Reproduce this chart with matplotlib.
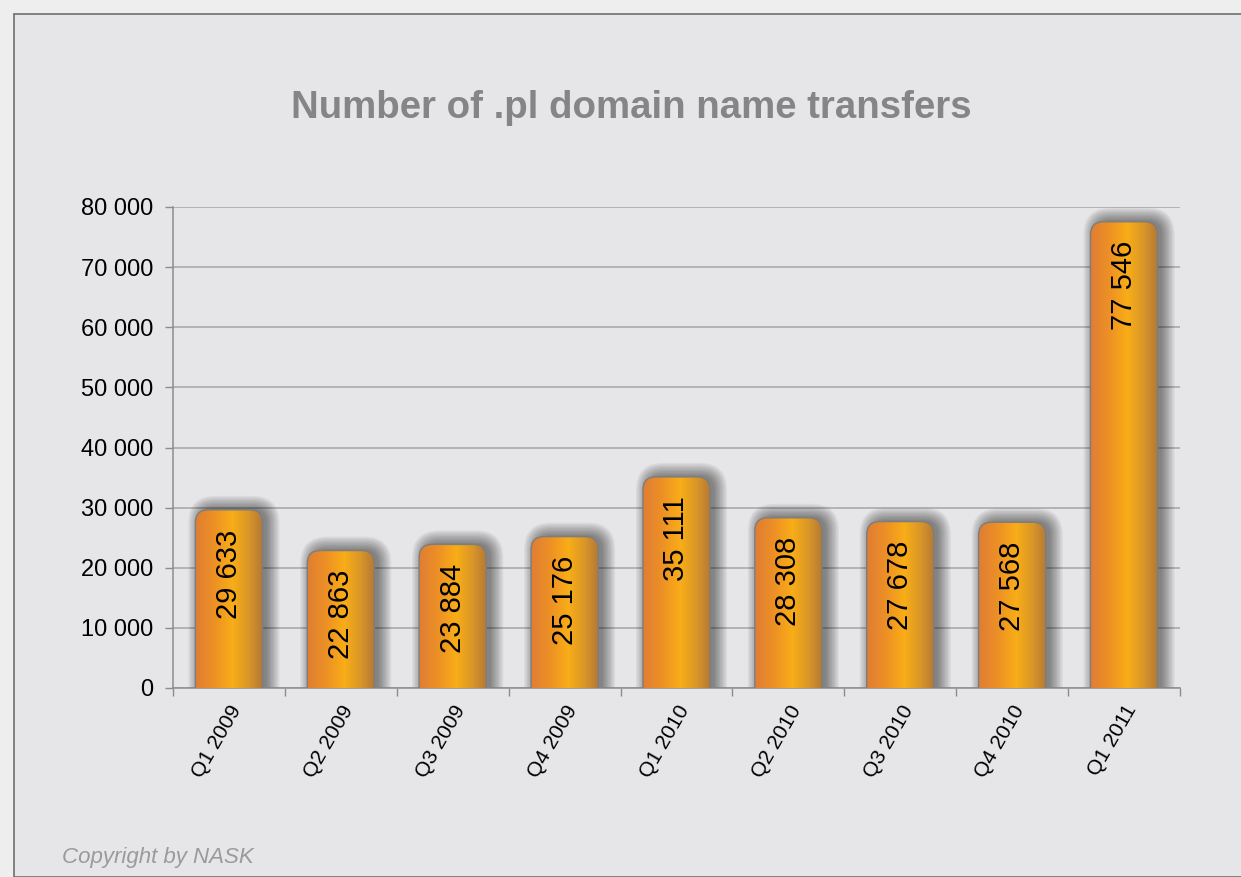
import numpy as np
import matplotlib.pyplot as plt
from matplotlib.patches import FancyBboxPatch, Rectangle
from matplotlib.colors import LinearSegmentedColormap

plt.rcParams['font.family'] = ['Liberation Sans', 'DejaVu Sans']

quarters = ['Q1 2009', 'Q2 2009', 'Q3 2009', 'Q4 2009', 'Q1 2010',
            'Q2 2010', 'Q3 2010', 'Q4 2010', 'Q1 2011']
transfers = [29633, 22863, 23884, 25176, 35111, 28308, 27678, 27568, 77546]
yticks = [0, 10000, 20000, 30000, 40000, 50000, 60000, 70000, 80000]


def fmt(v):
    return f'{v:,}'.replace(',', ' ')


W, H = 1241, 877
fig = plt.figure(figsize=(W / 100, H / 100), dpi=100)
fig.patch.set_facecolor('#eeeeef')
# framed panel
fig.patches.append(Rectangle((14 / W, 0), 1, 1 - 14 / H, transform=fig.transFigure,
                             facecolor='#e6e6e8', edgecolor='#6e6e6e', lw=1.2, zorder=-5))

ax = fig.add_axes([173 / W, 1 - 688 / H, (1180 - 173) / W, (688 - 207) / H])
ax.set_facecolor('none')
ax.set_xlim(-0.5, len(quarters) - 0.5)
ax.set_ylim(0, 80000)

# pixel -> data scale helpers
px_x = (len(quarters)) / (1180 - 173)
px_y = 80000 / (688 - 207)
aspect = px_y / px_x

cmap = LinearSegmentedColormap.from_list(
    'bar', [(0, '#e07d34'), (0.3, '#ee9224'), (0.55, '#f9ad17'), (0.8, '#d8952a'), (1, '#b37835')])
grad = np.linspace(0, 1, 256).reshape(1, -1)

bw = 0.6
r = 13 * px_x
for i, v in enumerate(transfers):
    x0 = i - bw / 2
    # soft shadow, mostly to the right
    for k in range(10):
        pad = (k + 1) * 1.4 * px_x
        sh = FancyBboxPatch((x0 + 7 * px_x, -5000), bw - 4 * px_x, v + 5000,
                            boxstyle=f'round,pad={pad},rounding_size={r + pad}',
                            mutation_aspect=aspect, facecolor='black', edgecolor='none',
                            alpha=0.05, zorder=2)
        ax.add_patch(sh)
    box = FancyBboxPatch((x0, -5000), bw, v + 5000,
                         boxstyle=f'round,pad=0,rounding_size={r}',
                         mutation_aspect=aspect, facecolor='none',
                         edgecolor='#7d7d7d', lw=1.0, zorder=4)
    ax.add_patch(box)
    im = ax.imshow(grad, cmap=cmap, aspect='auto', extent=[x0, x0 + bw, -5000, v],
                   zorder=3, interpolation='bicubic')
    im.set_clip_path(box)
    ax.annotate(fmt(v), (i, v), xytext=(0, -14), textcoords='offset points',
                rotation=90, ha='center', va='top', fontsize=21, color='black', zorder=5)

ax.set_xlim(-0.5, len(quarters) - 0.5)
ax.set_ylim(0, 80000)

ax.set_yticks(yticks)
ax.set_yticklabels([fmt(t) for t in yticks], fontsize=17)
ax.yaxis.grid(True, color='#a6a6a6', lw=1.1)
ax.set_axisbelow(True)
ax.tick_params(axis='y', length=6, color='#8c8c8c', width=1, pad=8)

ax.set_xticks(range(len(quarters)))
ax.set_xticklabels(quarters, rotation=60, ha='right', rotation_mode='anchor', fontsize=15)
ax.set_xticks(np.arange(-0.5, len(quarters)), minor=True)
ax.tick_params(axis='x', which='major', length=0, pad=10)
ax.tick_params(axis='x', which='minor', length=6, color='#8c8c8c', width=1)

for s in ['top', 'right']:
    ax.spines[s].set_visible(False)
for s in ['left', 'bottom']:
    ax.spines[s].set_color('#8c8c8c')
    ax.spines[s].set_linewidth(1.1)

fig.text(0.509, 1 - 108 / H, 'Number of .pl domain name transfers', ha='center', va='center',
         fontsize=27.6, fontweight='bold', color='#858587')
fig.text(62 / W, 1 - 857 / H, 'Copyright by NASK', ha='left', va='center',
         fontsize=16, style='italic', color='#9a9a9c')

fig.savefig('out.png', dpi=100, facecolor=fig.get_facecolor())
